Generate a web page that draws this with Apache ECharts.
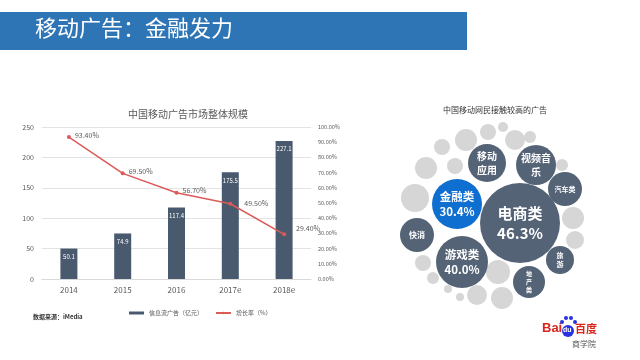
<!DOCTYPE html>
<html><head><meta charset="utf-8">
<script src="https://cdn.jsdelivr.net/npm/echarts@6/dist/echarts.min.js"></script>
<style>html,body{margin:0;padding:0;background:#fff}#c{width:640px;height:360px}</style>
</head><body><div id="c"></div>
<script>
// ---- bar + line chart data ----
const years = ['2014','2015','2016','2017e','2018e'];
const adSpend = [50.1, 74.9, 117.4, 175.5, 227.1];      // 信息流广告（亿元）
const growth = [93.4, 69.5, 56.7, 49.5, 29.4];          // 增长率（%）
const leftTicks = [0, 50, 100, 150, 200, 250];
// ---- bubble diagram data ----
const bubbleNames = ['电商类','游戏类','金融类','移动应用','视频音乐','汽车类','快消','旅游','地产类'];
const bubbleLabels = ['电商类\n46.3%','游戏类\n40.0%','金融类\n30.4%','移动\n应用','视频音\n乐','汽车类','快消','旅\n游','地\n产\n类'];
const bubbleX = [130, 72, 67, 97, 146, 175, 27, 170, 139];
const bubbleY = [103, 142, 84, 43, 45, 69, 115, 140, 162];
const bubbleR = [40, 26, 25, 19, 20, 17, 17, 14, 16];
const dotX = [52, 76, 98, 113, 125, 140, 65, 36, 172, 25, 183, 185, 33, 43, 58, 70, 87, 108, 112];
const dotY = [27, 20, 12, 7, 20, 17, 46, 48, 45, 78, 98, 120, 143, 158, 169, 177, 175, 152, 178];
const dotR = [8, 11, 8, 5, 10, 6, 8, 11, 6, 14, 11, 9, 8, 6, 4, 4, 10, 12, 11];

const chart = echarts.init(document.getElementById('c'), null, {renderer:'canvas'});
const F = '"Noto Sans CJK SC", "Noto Sans", sans-serif';
const gray = '#595959';

const bubbleData = bubbleNames.map((n,i)=>({value:[bubbleX[i], bubbleY[i], bubbleR[i]], name:n, lbl:bubbleLabels[i]}));
const dotData = dotX.map((x,i)=>[x, dotY[i], dotR[i]]);
const bubbleColors = ['#556377','#556377','#0e6fd0','#556377','#556377','#556377','#556377','#556377','#556377'];
const fontSizes = [15, 11.5, 11.5, 10, 10, 7, 8, 7, 6];
const lineLabelShift = [[0,-2],[0,-2],[0,-2],[8,0],[6,-6]];

chart.setOption({
  animation:false,
  textStyle:{fontFamily:F},
  title:[
    {text:'中国移动广告市场整体规模', left:183, top:104, textAlign:'center',
     textStyle:{fontSize:10, fontWeight:'normal', color:gray, fontFamily:F}},
    {text:'中国移动网民接触较高的广告', left:490, top:101, textAlign:'center',
     textStyle:{fontSize:8, fontWeight:'normal', color:'#333', fontFamily:F}}
  ],
  legend:{
    left:124, top:305, itemGap:12, itemWidth:15, itemHeight:3,
    textStyle:{fontSize:6, color:gray},
    data:[{name:'信息流广告（亿元）', icon:'rect'}, {name:'增长率（%）'}]
  },
  grid:[
    {left:42, right:329, top:127, bottom:81},
    {left:390, width:200, top:120, height:190}
  ],
  xAxis:[
    {type:'category', data:years, gridIndex:0,
     axisLine:{lineStyle:{color:'#d9d9d9'}}, axisTick:{show:false},
     axisLabel:{fontSize:8, color:gray, margin:7}},
    {type:'value', gridIndex:1, min:0, max:200, show:false}
  ],
  yAxis:[
    {type:'value', gridIndex:0, min:leftTicks[0], max:leftTicks[leftTicks.length-1], interval:50,
     axisLine:{show:false}, axisTick:{show:false},
     splitLine:{lineStyle:{color:'#e3e3e3'}},
     axisLabel:{fontSize:7, color:gray, margin:8}},
    {type:'value', gridIndex:0, min:0, max:100, interval:10, position:'right',
     axisLine:{show:false}, axisTick:{show:false}, splitLine:{show:false},
     axisLabel:{fontSize:5.5, color:gray, margin:7, formatter:v=>v.toFixed(2)+'%'}},
    {type:'value', gridIndex:1, min:0, max:190, inverse:true, show:false}
  ],
  series:[
    {name:'信息流广告（亿元）', type:'bar', data:adSpend, xAxisIndex:0, yAxisIndex:0,
     barWidth:17, itemStyle:{color:'#4a5a6e'},
     label:{show:true, position:'insideTop', color:'#fff', fontSize:6, distance:5}},
    {name:'增长率（%）', type:'line', data:growth, xAxisIndex:0, yAxisIndex:1,
     symbol:'circle', symbolSize:4, itemStyle:{color:'#dd5a5a'}, lineStyle:{color:'#dd5a5a', width:1.5},
     label:{show:true, position:'right', color:gray, fontSize:7, distance:4,
       formatter:p=>p.value.toFixed(2)+'%'},
     labelLayout:function(p){ const s=lineLabelShift[p.dataIndex]; return {dx:s[0], dy:s[1]}; },
     z:5},
    {type:'scatter', xAxisIndex:1, yAxisIndex:2, data:dotData, silent:true,
     symbolSize:v=>v[2]*2, itemStyle:{color:'#d6d6d6', opacity:1}, z:2},
    {type:'scatter', xAxisIndex:1, yAxisIndex:2, z:3,
     data:bubbleData.map((d,i)=>({value:d.value, name:d.name,
        itemStyle:{color:bubbleColors[i], opacity:1},
        label:{show:true, position:'inside', formatter:d.lbl, color:'#fff', fontWeight:'bold',
               fontSize:fontSizes[i], lineHeight:fontSizes[i]*1.35, fontFamily:F}})),
     symbolSize:v=>v[2]*2}
  ],
  graphic:[
    {type:'rect', left:0, top:12, shape:{width:467, height:38}, style:{fill:'#2e75b6'}, z:0},
    {type:'text', left:35, top:17, style:{text:'移动广告：金融发力', fill:'#fff', font:'22px "Noto Sans CJK SC"'}},
    {type:'text', left:33, top:314, style:{text:'数据来源：iMedia', fill:'#333', font:'bold 6px "Noto Sans CJK SC"'}},
    {type:'text', left:542, top:322, style:{text:'Bai', fill:'#d9261c', font:'bold 13px "Liberation Sans"'}},
    {type:'circle', shape:{cx:568, cy:331, r:6}, style:{fill:'#2932e1'}},
    {type:'circle', shape:{cx:562, cy:322, r:2}, style:{fill:'#2932e1'}},
    {type:'circle', shape:{cx:566, cy:318, r:2}, style:{fill:'#2932e1'}},
    {type:'circle', shape:{cx:571, cy:318, r:2}, style:{fill:'#2932e1'}},
    {type:'circle', shape:{cx:575, cy:322, r:2}, style:{fill:'#2932e1'}},
    {type:'text', left:563, top:327, style:{text:'du', fill:'#fff', font:'bold 7px "Liberation Sans"'}},
    {type:'text', left:575, top:323, style:{text:'百度', fill:'#d9261c', font:'bold 11px "Noto Sans CJK SC"'}},
    {type:'text', left:572, top:340, style:{text:'商学院', fill:'#555', font:'8px "Noto Sans CJK SC"'}}
  ]
});
</script></body></html>
